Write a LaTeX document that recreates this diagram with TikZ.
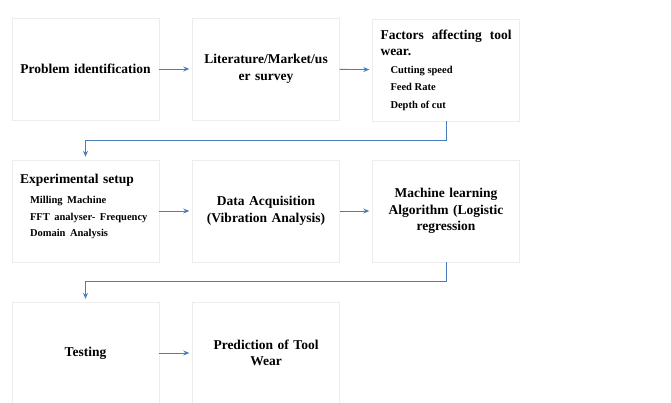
\documentclass[tikz,border=0pt]{standalone}
\usepackage{fontspec}
\setmainfont{Liberation Serif}
\usetikzlibrary{arrows.meta,calc,positioning,shadows}
\definecolor{FlowBlue}{HTML}{4A7EBB}
\newcommand{\subfont}{\fontsize{10.5}{13.5}\selectfont}
\newcommand{\subline}[1]{\\[1pt]\hspace*{10pt}{\subfont #1}}

\begin{document}
\begin{tikzpicture}[x=1pt,y=-1pt,font=\bfseries\fontsize{13.5}{16.5}\selectfont,
          stage/.style={draw=black!7,line width=0.4pt,fill=white,
            minimum width=147pt,minimum height=102pt,text width=131pt,
            inner xsep=8pt,align=center,
            drop shadow={shadow xshift=0.6pt,shadow yshift=-1.4pt,
              fill=black,opacity=0.12}},
          flow/.style={-{Stealth[length=6pt,width=5pt]},FlowBlue,
            line width=0.9pt,shorten >=3pt}]
        \useasboundingbox (0,0) rectangle (671,403);

        % row 1
        \node[stage] (prob) at (85.5,69) {Problem identification};
        \node[stage] (lit) at (266,69) {Literature/Market/us\\er survey};
        \node[stage,align=justify] (fac) at (446,70)
          {Factors affecting tool wear.
           \subline{Cutting speed}
           \subline{Feed Rate}
           \subline{Depth of cut}};

        % row 2
        \node[stage,align=left] (exp) at (85.5,211)
          {Experimental setup\\[3pt]
           \hspace*{10pt}{\subfont Milling Machine}\\[1pt]
           \hspace*{10pt}{\subfont\makebox[120pt][s]{FFT analyser- Frequency}}\\[-1pt]
           \hspace*{10pt}{\subfont Domain Analysis}\rule[-11pt]{0pt}{11pt}};
        \node[stage] (daq) at (266,211) {Data Acquisition\\(Vibration Analysis)};
        \node[stage] (mla) at (446,211)
          {Machine learning\\Algorithm (Logistic\\regression};

        % row 3
        \node[stage] (test) at (85.5,353) {Testing};
        \node[stage] (pred) at (266,353) {Prediction of Tool\\Wear};

        \draw[flow] (prob) -- (lit);
        \draw[flow] (lit) -- (fac);
        \draw[flow] (exp) -- (daq);
        \draw[flow] (daq) -- (mla);
        \draw[flow] (test) -- (pred);
        \draw[flow] (fac.south) -- ++(0,19) -| (exp.north);
        \draw[flow] (mla.south) -- ++(0,19) -| (test.north);
      \end{tikzpicture}
\end{document}
